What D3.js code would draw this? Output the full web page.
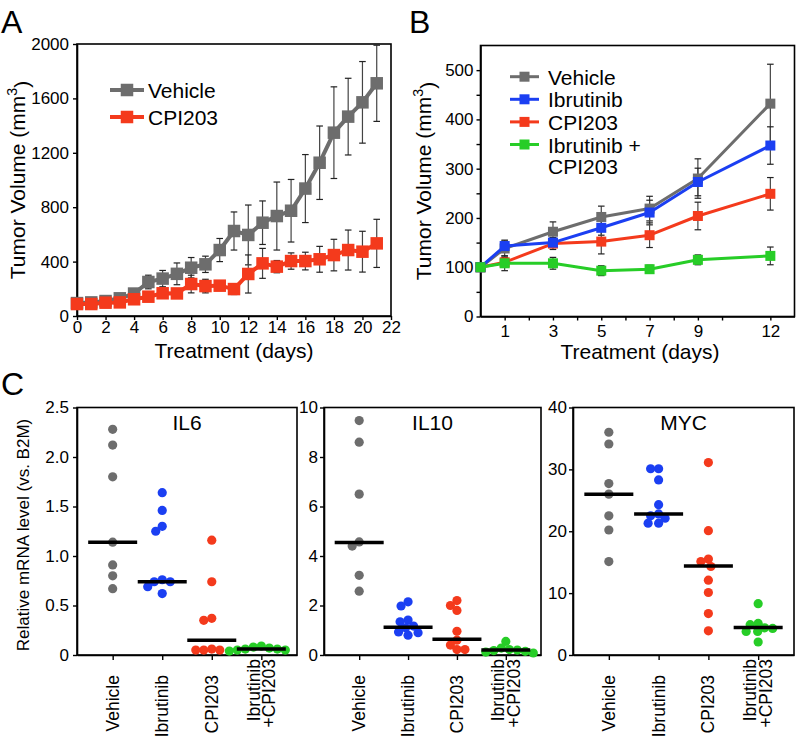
<!DOCTYPE html>
<html>
<head>
<meta charset="utf-8">
<script src="https://cdn.jsdelivr.net/npm/d3@7"></script>
<style>
  body { margin: 0; background: #fff; }
  text { font-family: "Liberation Sans", Arial, Helvetica, sans-serif; fill: #000; }
</style>
</head>
<body>
<svg id="fig" width="799" height="737"></svg>
<script>
// ---- panel A : tumor volume, 2 groups
const daysA = [0, 1, 2, 3, 4, 5, 6, 7, 8, 9, 10, 11, 12, 13, 14, 15, 16, 17, 18, 19, 20, 21];
const vehicleA = [95, 100, 110, 130, 165, 250, 275, 310, 355, 380, 485, 625, 596, 686, 735, 774, 937, 1127, 1348, 1466, 1571, 1711];
const vehicleAErr = [10, 10, 15, 20, 25, 50, 60, 80, 75, 60, 85, 140, 220, 160, 250, 230, 250, 270, 337, 282, 300, 280];
const cpiA = [88, 88, 98, 100, 123, 142, 167, 166, 235, 220, 223, 198, 309, 387, 363, 404, 404, 417, 448, 485, 473, 534];
const cpiAErr = [10, 10, 12, 15, 20, 25, 30, 35, 65, 50, 35, 40, 140, 110, 45, 60, 65, 95, 116, 147, 150, 177];
const xTicksA = [0, 2, 4, 6, 8, 10, 12, 14, 16, 18, 20, 22];
const yTicksA = [0, 400, 800, 1200, 1600, 2000];

// ---- panel B : tumor volume, 4 groups
const daysB = [0, 1, 3, 5, 7, 9, 12];
const vehicleB = [100, 138, 172, 202, 219, 280, 432];
const vehicleBErr = [5, 15, 20, 22, 25, 40, 80];
const ibrutinibB = [100, 143, 150, 180, 211, 273, 347];
const ibrutinibBErr = [5, 12, 10, 15, 25, 28, 38];
const cpiB = [100, 110, 148, 152, 165, 204, 249];
const cpiBErr = [5, 10, 12, 25, 25, 28, 33];
const comboB = [100, 108, 108, 93, 96, 115, 123];
const comboBErr = [5, 15, 12, 10, 8, 10, 18];
const xTicksB = [1, 2, 3, 4, 5, 6, 7, 8, 9, 10, 12];
const xLabelsB = [1, 3, 5, 7, 9, 12];
const yTicksB = [0, 50, 100, 150, 200, 250, 300, 350, 400, 450, 500];

// ---- panel C : mRNA levels
const groupsC = ["Vehicle", "Ibrutinib", "CPI203", "Ibrutinib +CPI203"];
const genes = ["IL6", "IL10", "MYC"];
const il6Values = [
  [2.28, 2.12, 1.80, 1.14, 0.91, 0.80, 0.67],
  [1.64, 1.46, 1.30, 1.25, 0.76, 0.74, 0.74, 0.69, 0.62],
  [1.16, 0.74, 0.37, 0.35, 0.06, 0.05, 0.05, 0.05],
  [0.09, 0.08, 0.07, 0.06, 0.06, 0.05, 0.05, 0.04]
];
const il6Medians = [1.14, 0.74, 0.15, 0.06];
const il10Values = [
  [9.47, 8.60, 6.50, 4.57, 4.40, 3.22, 2.58],
  [2.15, 1.98, 1.41, 1.34, 1.17, 1.10, 0.93, 0.90, 0.80],
  [2.20, 2.00, 1.80, 0.96, 0.60, 0.40, 0.22, 0.22],
  [0.55, 0.28, 0.22, 0.20, 0.18, 0.15, 0.12, 0.08]
];
const il10Medians = [4.55, 1.12, 0.64, 0.20];
const mycValues = [
  [36.0, 34.1, 27.7, 26.0, 22.5, 20.2, 15.1],
  [30.1, 30.1, 28.3, 24.3, 22.8, 22.5, 22.1, 21.3, 21.3],
  [31.1, 20.1, 15.5, 15.1, 14.3, 12.1, 10.1, 6.7, 3.9],
  [8.3, 5.1, 4.9, 4.4, 4.3, 3.8, 3.8, 2.1]
];
const mycMedians = [26.0, 22.8, 14.4, 4.45];
const yTicksIL6 = [0, 0.5, 1.0, 1.5, 2.0, 2.5];
const yTicksIL10 = [0, 2, 4, 6, 8, 10];
const yTicksMYC = [0, 10, 20, 30, 40];

const GREY = "#6d6d6d", RED = "#f43a1c", BLUE = "#1b3ff2", GREEN = "#27cd27";
const dotColors = [GREY, BLUE, RED, GREEN];

const svg = d3.select("#fig");
svg.append("rect").attr("width", 799).attr("height", 737).attr("fill", "#fff");

function styleAxis(g, fs) {
  g.select(".domain").attr("stroke", "#000").attr("stroke-width", 1.6);
  g.selectAll(".tick line").attr("stroke", "#000").attr("stroke-width", 1.4);
  g.selectAll(".tick text").attr("font-size", fs).attr("fill", "#000")
    .attr("font-family", '"Liberation Sans", Arial, sans-serif');
}

function frame(g, x0, x1, y0, y1) {
  g.append("rect").attr("x", x0).attr("y", y0).attr("width", x1 - x0).attr("height", y1 - y0)
    .attr("fill", "none").attr("stroke", "#000").attr("stroke-width", 1.6);
}

function yTitle(g, x, y, size, label, sup) {
  const t = g.append("text").attr("transform", `translate(${x},${y}) rotate(-90)`)
    .attr("text-anchor", "middle").attr("font-size", size).text(label);
  if (sup) {
    t.append("tspan").attr("dy", "-0.55em").attr("font-size", size * 0.68).text(sup);
    t.append("tspan").attr("dy", "0.55em").text(")");
  }
}

function errorBars(g, xs, ys, days, vals, errs, cap) {
  days.forEach((d, i) => {
    const x = xs(d);
    const lo = ys(vals[i] - errs[i]), hi = ys(vals[i] + errs[i]);
    g.append("line").attr("x1", x).attr("x2", x).attr("y1", lo).attr("y2", hi)
      .attr("stroke", "#444").attr("stroke-width", 1.2);
    [lo, hi].forEach(yy => g.append("line").attr("x1", x - cap).attr("x2", x + cap)
      .attr("y1", yy).attr("y2", yy).attr("stroke", "#222").attr("stroke-width", 1.2));
  });
}

function series(g, xs, ys, days, vals, color, lw, ms) {
  const line = d3.line().x((d, i) => xs(days[i])).y(d => ys(d));
  g.append("path").datum(vals).attr("d", line).attr("fill", "none")
    .attr("stroke", color).attr("stroke-width", lw).attr("stroke-linejoin", "round");
  g.selectAll(null).data(vals).join("rect")
    .attr("x", (d, i) => xs(days[i]) - ms / 2).attr("y", d => ys(d) - ms / 2)
    .attr("width", ms).attr("height", ms).attr("fill", color);
}

function legendRow(g, x0, x1, y, color, lw, ms, label, gap) {
  g.append("line").attr("x1", x0).attr("x2", x1).attr("y1", y).attr("y2", y)
    .attr("stroke", color).attr("stroke-width", lw);
  g.append("rect").attr("x", (x0 + x1) / 2 - ms / 2).attr("y", y - ms / 2)
    .attr("width", ms).attr("height", ms).attr("fill", color);
  g.append("text").attr("x", x1 + gap).attr("y", y + 8).attr("font-size", 21).text(label);
}

// ================= Panel A =================
{
  const g = svg.append("g");
  const x = d3.scaleLinear().domain([0, 22]).range([77, 391]);
  const y = d3.scaleLinear().domain([0, 2000]).range([316, 44]);
  frame(g, 77, 391, 44, 316);
  const ax = g.append("g").attr("transform", "translate(0,316)")
    .call(d3.axisBottom(x).tickValues(xTicksA).tickSize(4).tickSizeOuter(0).tickPadding(1));
  styleAxis(ax, 17);
  const ay = g.append("g").attr("transform", "translate(77,0)")
    .call(d3.axisLeft(y).tickValues(yTicksA).tickSize(4).tickSizeOuter(0).tickPadding(4)
      .tickFormat(d3.format("d")));
  styleAxis(ay, 17);
  errorBars(g, x, y, daysA, vehicleA, vehicleAErr, 3.3);
  errorBars(g, x, y, daysA, cpiA, cpiAErr, 3.3);
  series(g, x, y, daysA, vehicleA, GREY, 4, 12.5);
  series(g, x, y, daysA, cpiA, RED, 4, 12.5);
  legendRow(g, 110, 144, 90, GREY, 4, 12.5, "Vehicle", 4);
  legendRow(g, 110, 144, 117, RED, 4, 12.5, "CPI203", 4);
  g.append("text").attr("x", 234).attr("y", 358).attr("text-anchor", "middle")
    .attr("font-size", 21).text("Treatment (days)");
  yTitle(g, 25, 180, 21, "Tumor Volume (mm", "3");
  g.append("text").attr("x", 1).attr("y", 33).attr("font-size", 32).text("A");
}

// ================= Panel B =================
{
  const g = svg.append("g");
  const x = d3.scaleLinear().domain([0, 13]).range([480.5, 794.5]);
  const y = d3.scaleLinear().domain([0, 550]).range([316.5, 45.5]);
  frame(g, 480.5, 794.5, 45.5, 316.5);
  const ax = g.append("g").attr("transform", "translate(0,316.5)")
    .call(d3.axisBottom(x).tickValues(xTicksB).tickSize(4).tickSizeOuter(0).tickPadding(4)
      .tickFormat(d => xLabelsB.includes(d) ? d : ""));
  styleAxis(ax, 17);
  const ay = g.append("g").attr("transform", "translate(480.5,0)")
    .call(d3.axisLeft(y).tickValues(yTicksB).tickSize(4).tickSizeOuter(0).tickPadding(3)
      .tickFormat(d => d % 100 === 0 ? d : ""));
  styleAxis(ay, 17);
  errorBars(g, x, y, daysB, vehicleB, vehicleBErr, 3.3);
  errorBars(g, x, y, daysB, ibrutinibB, ibrutinibBErr, 3.3);
  errorBars(g, x, y, daysB, cpiB, cpiBErr, 3.3);
  errorBars(g, x, y, daysB, comboB, comboBErr, 3.3);
  series(g, x, y, daysB, vehicleB, GREY, 3, 10);
  series(g, x, y, daysB, cpiB, RED, 3, 10);
  series(g, x, y, daysB, ibrutinibB, BLUE, 3, 10);
  series(g, x, y, daysB, comboB, GREEN, 3, 10);
  legendRow(g, 510, 539, 76.7, GREY, 3, 10, "Vehicle", 9);
  legendRow(g, 510, 539, 99.3, BLUE, 3, 10, "Ibrutinib", 9);
  legendRow(g, 510, 539, 121.9, RED, 3, 10, "CPI203", 9);
  legendRow(g, 510, 539, 144.5, GREEN, 3, 10, "Ibrutinib +", 9);
  g.append("text").attr("x", 548).attr("y", 174).attr("font-size", 21).text("CPI203");
  g.append("text").attr("x", 640).attr("y", 359).attr("text-anchor", "middle")
    .attr("font-size", 21).text("Treatment (days)");
  yTitle(g, 431, 181, 21, "Tumor Volume (mm", "3");
  g.append("text").attr("x", 409).attr("y", 33).attr("font-size", 32).text("B");
}

// ================= Panel C =================
// simple beeswarm: nudge each dot sideways until it clears the ones already placed
function dodge(vals, y, sep) {
  const placed = [];
  const out = new Array(vals.length);
  const order = vals.map((v, i) => i).sort((a, b) => vals[b] - vals[a]);
  for (const i of order) {
    const py = y(vals[i]);
    let dx = 0;
    for (let k = 0; k < 400; k++) {
      const cand = (k % 2 ? -1 : 1) * Math.ceil(k / 2) * 0.5;
      if (placed.every(p => (cand - p.dx) ** 2 + (py - p.y) ** 2 >= sep ** 2)) { dx = cand; break; }
    }
    placed.push({ dx, y: py });
    out[i] = dx;
  }
  return out;
}

const panelsC = [
  { name: genes[0], x0: 77, x1: 297, domain: [0, 2.5], ticks: yTicksIL6, vals: il6Values, med: il6Medians,
    fmt: d => d === 0 ? "0" : d3.format(".1f")(d), pad: 4 },
  { name: genes[1], x0: 324, x1: 541, domain: [0, 10], ticks: yTicksIL10, vals: il10Values, med: il10Medians,
    fmt: d => d, pad: 2 },
  { name: genes[2], x0: 573, x1: 794, domain: [0, 40], ticks: yTicksMYC, vals: mycValues, med: mycMedians,
    fmt: d => d, pad: 2 }
];

panelsC.forEach(p => {
  const g = svg.append("g");
  const top = 407.5, bottom = 655;
  const x = d3.scalePoint().domain(groupsC).range([p.x0, p.x1]).padding(0.72);
  const y = d3.scaleLinear().domain(p.domain).range([bottom, top]);
  frame(g, p.x0, p.x1, top, bottom);
  const ax = g.append("g").attr("transform", `translate(0,${bottom})`)
    .call(d3.axisBottom(x).tickSize(5).tickSizeOuter(0).tickFormat(""));
  styleAxis(ax, 17);
  const ay = g.append("g").attr("transform", `translate(${p.x0},0)`)
    .call(d3.axisLeft(y).tickValues(p.ticks).tickSize(4).tickSizeOuter(0).tickPadding(p.pad).tickFormat(p.fmt));
  styleAxis(ay, 17);

  groupsC.forEach((grp, gi) => {
    const vals = p.vals[gi];
    const offs = dodge(vals, y, 7.8);
    g.selectAll(null).data(vals).join("circle")
      .attr("cx", (d, i) => x(grp) + offs[i]).attr("cy", d => y(d)).attr("r", 4.6)
      .attr("fill", dotColors[gi]);
    g.append("line").attr("x1", x(grp) - 24.5).attr("x2", x(grp) + 24.5)
      .attr("y1", y(p.med[gi])).attr("y2", y(p.med[gi]))
      .attr("stroke", "#000").attr("stroke-width", 3.5);

    // rotated category labels
    const lines = grp.split(" ");
    const top0 = lines.length > 1 ? 659 : 675;
    lines.forEach((ln, li) => {
      const dxl = lines.length > 1 ? (li - 0.5) * 15.5 : 0;
      g.append("text")
        .attr("transform", `translate(${x(grp) + dxl + 6},${top0}) rotate(-90)`)
        .attr("text-anchor", "end").attr("font-size", 17.5).text(ln);
    });
  });

  g.append("text").attr("x", (p.x0 + p.x1) / 2).attr("y", 430).attr("text-anchor", "middle")
    .attr("font-size", 21).text(p.name);
});

yTitle(svg, 29, 535, 17, "Relative mRNA level (vs. B2M)");
svg.append("text").attr("x", 1).attr("y", 395).attr("font-size", 32).text("C");
</script>
</body>
</html>
